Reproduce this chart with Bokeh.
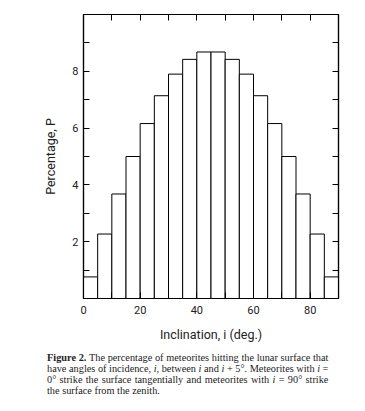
from bokeh.plotting import figure
from bokeh.models import Range1d, LinearAxis, FixedTicker, Div
from bokeh.layouts import column
from bokeh.embed import file_html
from bokeh.resources import INLINE

# Data: percentage of meteorites per 5-degree inclination bin
bin_left = [0, 5, 10, 15, 20, 25, 30, 35, 40, 45, 50, 55, 60, 65, 70, 75, 80, 85]
bin_right = [5, 10, 15, 20, 25, 30, 35, 40, 45, 50, 55, 60, 65, 70, 75, 80, 85, 90]
percentage = [0.76, 2.27, 3.68, 5.0, 6.16, 7.14, 7.9, 8.42, 8.68,
              8.68, 8.42, 7.9, 7.14, 6.16, 5.0, 3.68, 2.27, 0.76]
x_major = [0, 20, 40, 60, 80]
x_minor = [10, 30, 50, 70, 90]
y_major = [2, 4, 6, 8]
y_minor = [1, 3, 5, 7, 9]

FONT = "Roboto"

p = figure(width=357, height=346, output_backend="svg", toolbar_location=None,
           x_range=Range1d(0, 90), y_range=Range1d(0, 10),
           x_axis_label="Inclination, i (deg.)", y_axis_label="Percentage, P",
           min_border_left=83, min_border_right=19, min_border_top=14, min_border_bottom=48)
p.xgrid.visible = False
p.ygrid.visible = False
p.outline_line_color = "black"
p.outline_line_width = 1.2
p.background_fill_color = "white"
p.border_fill_color = "white"

p.quad(left=bin_left, right=bin_right, bottom=0, top=percentage,
       fill_color="white", line_color="black", line_width=1)

def style(ax):
    ax.axis_line_color = "black"
    ax.axis_line_width = 1.2
    ax.major_tick_in = 6
    ax.major_tick_out = 0
    ax.minor_tick_in = 6
    ax.minor_tick_out = 0
    ax.major_tick_line_color = "black"
    ax.minor_tick_line_color = "black"
    ax.major_tick_line_width = 1
    ax.minor_tick_line_width = 1
    ax.major_label_text_font = FONT
    ax.major_label_text_font_size = "11px"
    ax.major_label_text_color = "#222222"
    ax.axis_label_text_font = FONT
    ax.axis_label_text_font_size = "12.5px"
    ax.axis_label_text_font_style = "normal"
    ax.axis_label_text_color = "#222222"

xa = p.xaxis[0]
xa.ticker = FixedTicker(ticks=x_major, minor_ticks=x_minor)
style(xa)
xa.major_label_standoff = 7
xa.axis_label_standoff = 10

ya = p.yaxis[0]
ya.ticker = FixedTicker(ticks=y_major, minor_ticks=y_minor)
style(ya)
ya.major_label_standoff = 5
ya.axis_label_standoff = 11

top = LinearAxis(ticker=FixedTicker(ticks=[], minor_ticks=x_major[1:] + x_minor[:-1]))
style(top)
top.major_label_standoff = 0
p.add_layout(top, "above")

right = LinearAxis(ticker=FixedTicker(ticks=[], minor_ticks=y_major + y_minor))
style(right)
right.major_label_standoff = 0
p.add_layout(right, "right")

line_style = "display:block;text-align:justify;text-align-last:justify;"
caption = Div(
    text=(f"<span style='{line_style}'><b>Figure 2.</b> The percentage of meteorites hitting the lunar surface that</span>"
          f"<span style='{line_style}'>have angles of incidence, <i>i</i>, between <i>i</i> and <i>i</i> + 5&deg;. Meteorites with <i>i</i> =</span>"
          f"<span style='{line_style}'>0&deg; strike the surface tangentially and meteorites with <i>i</i> = 90&deg; strike</span>"
          "<span style='display:block;'>the surface from the zenith.</span>"),
    width=310,
    margin=(6, 0, 0, 47),
    styles={"font-family": "Liberation Serif", "font-size": "10.3px",
            "line-height": "11px", "color": "#222222"},
)

layout = column(p, caption)
open("out.html", "w").write(file_html(layout, INLINE))
